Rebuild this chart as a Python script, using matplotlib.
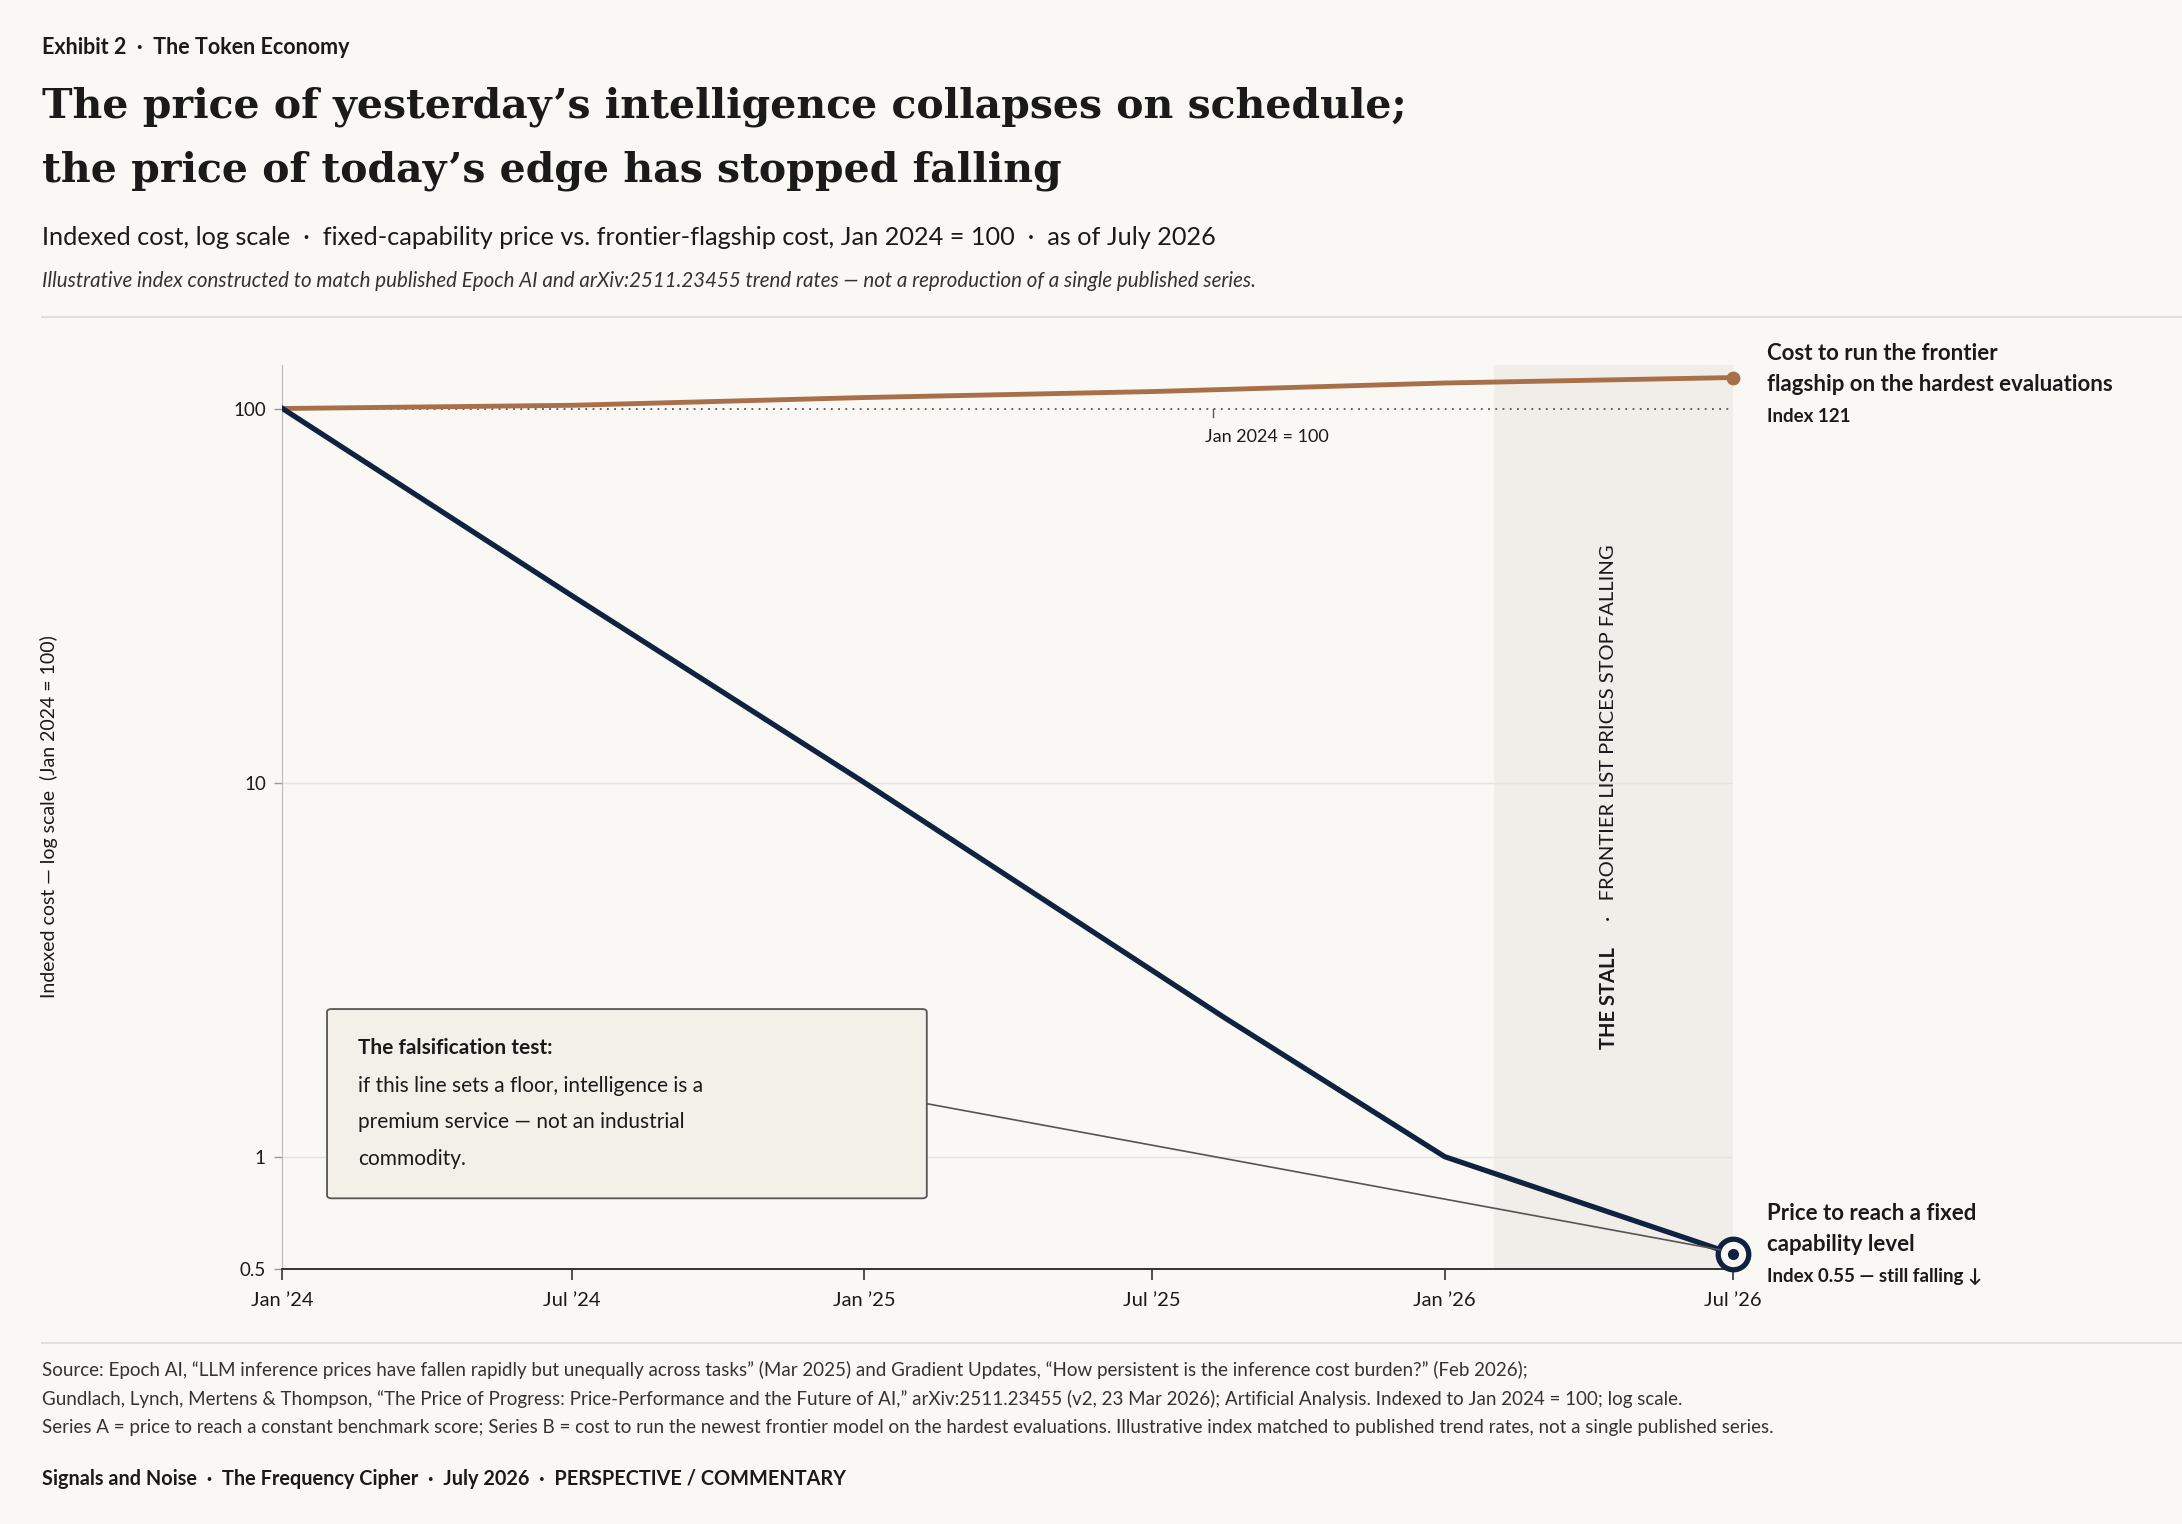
import matplotlib
matplotlib.use("Agg")
import matplotlib.pyplot as plt
from matplotlib.patches import FancyBboxPatch
from datetime import datetime

# ---- data ----
dates_a = ["2024-01-01", "2024-07-01", "2025-01-01", "2025-08-15", "2026-01-01", "2026-07-01"]
fixed_capability = [100, 31.6, 10.0, 2.36, 1.0, 0.55]
dates_b = ["2024-01-01", "2024-07-01", "2025-01-01", "2025-07-01", "2026-01-01", "2026-07-01"]
frontier_flagship = [100, 102, 107, 111, 117, 121]
x_ticks = ["2024-01-01", "2024-07-01", "2025-01-01", "2025-07-01", "2026-01-01", "2026-07-01"]
x_labels = ["Jan \u201924", "Jul \u201924", "Jan \u201925", "Jul \u201925", "Jan \u201926", "Jul \u201926"]
y_ticks = [0.5, 1, 10, 100]
y_labels = ["0.5", "1", "10", "100"]
stall_start, stall_end = "2026-02-01", "2026-07-01"

BG = "#f9f8f4"; NAVY = "#0f2340"; ORANGE = "#a8704a"; INK = "#1a1a1a"
SANS = ["Lato", "DejaVu Sans"]
SERIF = ["DejaVu Serif"]

W, H = 1568, 1095
fig = plt.figure(figsize=(21.82, 15.24), dpi=100, facecolor=BG)
def fx(x): return x / W
def fy(y): return 1 - y / H

ax = fig.add_axes([fx(203), fy(912), fx(1245) - fx(203), fy(262) - fy(912)])
ax.set_facecolor(BG)
da = [datetime.fromisoformat(d) for d in dates_a]
db = [datetime.fromisoformat(d) for d in dates_b]
ax.set_yscale("log")
ax.set_ylim(0.5, 131)
ax.set_xlim(datetime(2024, 1, 1), datetime(2026, 7, 1))
ax.axvspan(datetime.fromisoformat(stall_start), datetime.fromisoformat(stall_end), color="#f1eeea", zorder=0, lw=0)
for v in [1, 10]:
    ax.axhline(v, color="#e4e2dd", lw=1, zorder=1)
ax.axhline(100, color="#555555", lw=1.3, ls=(0, (1, 3)), zorder=1)
ax.plot(db, frontier_flagship, color=ORANGE, lw=3.5, zorder=3, solid_capstyle="round")
ax.plot(db[-1], frontier_flagship[-1], "o", color=ORANGE, ms=9, zorder=4, clip_on=False)
ax.plot(da, fixed_capability, color=NAVY, lw=3.8, zorder=3)
ax.plot(da[-1], fixed_capability[-1], "o", ms=22, mfc=BG, mec=NAVY, mew=3.8, zorder=5, clip_on=False)
ax.plot(da[-1], fixed_capability[-1], "o", ms=7, color=NAVY, zorder=6, clip_on=False)

ax.set_xticks([datetime.fromisoformat(d) for d in x_ticks])
ax.set_xticklabels(x_labels, fontsize=14.5, family=SANS, color=INK)
ax.set_yticks(y_ticks)
ax.set_yticklabels(y_labels, fontsize=13.5, family=SANS, color=INK)
ax.yaxis.set_minor_locator(matplotlib.ticker.NullLocator())
ax.tick_params(axis="x", length=8, width=1.2, color="#333333", pad=8)
ax.tick_params(axis="y", length=6, width=1, color="#999999", pad=6)
for s in ["top", "right"]:
    ax.spines[s].set_visible(False)
ax.spines["bottom"].set_color("#333333"); ax.spines["bottom"].set_linewidth(1.4)
ax.spines["left"].set_color("#bbbbbb")
ax.set_ylabel("Indexed cost \u2014 log scale  (Jan 2024 = 100)", fontsize=14, family=SANS, color=INK)
ax.yaxis.set_label_coords(-0.155, 0.5)

# baseline label
ax.plot([datetime(2025, 8, 8)] * 2, [100, 95], color="#555555", lw=1)
ax.text(datetime(2025, 8, 3), 88, "Jan 2024 = 100", fontsize=13, family=SANS, color=INK, va="top", ha="left")

# stall label
fig.text(fx(1156), fy(754), "THE STALL", rotation=90, fontsize=14.5, family=SANS, weight="bold", color=INK,
         ha="center", va="bottom")
fig.text(fx(1156), fy(662), "\u00b7   FRONTIER LIST PRICES STOP FALLING", rotation=90, fontsize=14.5, family=SANS, color=INK,
         ha="center", va="bottom")

# annotation box
box = FancyBboxPatch((fx(235), fy(861)), fx(666) - fx(235), fy(725) - fy(861), boxstyle="round,pad=0,rounding_size=0.002",
                     transform=fig.transFigure, fc="#f3f0ea", ec="#555555", lw=1.3, zorder=10)
fig.add_artist(box)
fig.add_artist(plt.Line2D([fx(666), fx(1236)], [fy(793), fy(898)], transform=fig.transFigure, color="#555555", lw=1.2, zorder=4))
fig.text(fx(257), fy(753), "The falsification test:", fontsize=15, family=SANS, weight="bold", color=INK, va="center", zorder=11)
for i, line in enumerate(["if this line sets a floor, intelligence is a", "premium service \u2014 not an industrial", "commodity."]):
    fig.text(fx(257), fy(780 + 26.5 * i), line, fontsize=15, family=SANS, color=INK, va="center", zorder=11)

# right labels
fig.text(fx(1270), fy(254), "Cost to run the frontier", fontsize=16, family=SANS, weight="bold", color=INK, va="center")
fig.text(fx(1270), fy(276), "flagship on the hardest evaluations", fontsize=16, family=SANS, weight="bold", color=INK, va="center")
fig.text(fx(1270), fy(299), "Index 121", fontsize=13.5, family=SANS, weight="bold", color=INK, va="center")
fig.text(fx(1270), fy(872), "Price to reach a fixed", fontsize=16, family=SANS, weight="bold", color=INK, va="center")
fig.text(fx(1270), fy(894), "capability level", fontsize=16, family=SANS, weight="bold", color=INK, va="center")
fig.text(fx(1270), fy(917), "Index 0.55 \u2014 still falling \u2193", fontsize=13.5, family=SANS, weight="bold", color=INK, va="center")

# header
fig.text(fx(30), fy(34), "Exhibit 2  \u00b7  The Token Economy", fontsize=15.5, family=SANS, weight="bold", color=INK, va="center")
fig.text(fx(30), fy(77), "The price of yesterday\u2019s intelligence collapses on schedule;", fontsize=29.5, family=SERIF, weight="bold", color=INK, va="center")
fig.text(fx(30), fy(123), "the price of today\u2019s edge has stopped falling", fontsize=29.5, family=SERIF, weight="bold", color=INK, va="center")
fig.text(fx(30), fy(171), "Indexed cost, log scale  \u00b7  fixed-capability price vs. frontier-flagship cost, Jan 2024 = 100  \u00b7  as of July 2026",
         fontsize=18.2, family=SANS, color=INK, va="center")
fig.text(fx(30), fy(202), "Illustrative index constructed to match published Epoch AI and arXiv:2511.23455 trend rates \u2014 not a reproduction of a single published series.",
         fontsize=14.8, family=SANS, style="italic", color="#333333", va="center")
fig.add_artist(plt.Line2D([fx(30), 1], [fy(228)] * 2, transform=fig.transFigure, color="#e2e0da", lw=1.5))
fig.add_artist(plt.Line2D([fx(30), 1], [fy(965)] * 2, transform=fig.transFigure, color="#e2e0da", lw=1.5))

foot = ["Source: Epoch AI, \u201cLLM inference prices have fallen rapidly but unequally across tasks\u201d (Mar 2025) and Gradient Updates, \u201cHow persistent is the inference cost burden?\u201d (Feb 2026);",
        "Gundlach, Lynch, Mertens & Thompson, \u201cThe Price of Progress: Price-Performance and the Future of AI,\u201d arXiv:2511.23455 (v2, 23 Mar 2026); Artificial Analysis. Indexed to Jan 2024 = 100; log scale.",
        "Series A = price to reach a constant benchmark score; Series B = cost to run the newest frontier model on the hardest evaluations. Illustrative index matched to published trend rates, not a single published series."]
for i, t in enumerate(foot):
    fig.text(fx(30), fy(984 + 21 * i), t, fontsize=13.5, family=SANS, color="#333333", va="center")
fig.text(fx(30), fy(1063), "Signals and Noise  \u00b7  The Frequency Cipher  \u00b7  July 2026  \u00b7  PERSPECTIVE / COMMENTARY",
         fontsize=14.3, family=SANS, weight="bold", color=INK, va="center")

fig.savefig("out.png", dpi=100, facecolor=BG)
